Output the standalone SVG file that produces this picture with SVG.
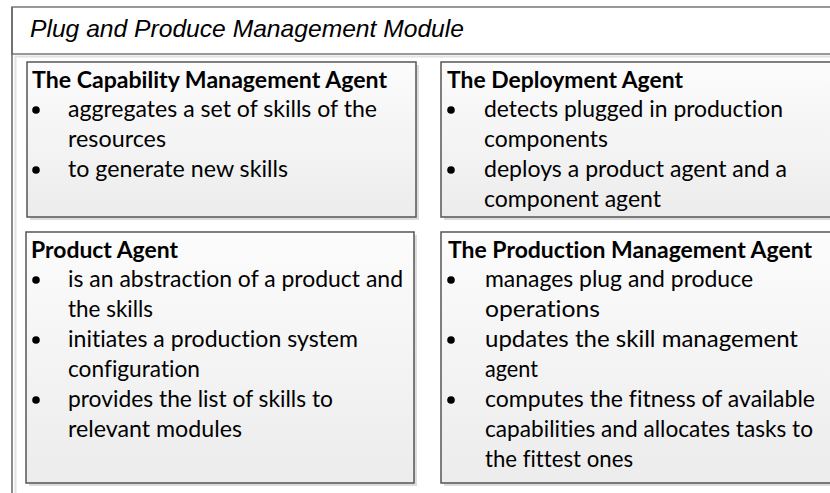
<svg xmlns="http://www.w3.org/2000/svg" width="830" height="493" viewBox="0 0 830 493">
<defs>
<linearGradient id="boxfill" x1="0" y1="0" x2="0" y2="1">
<stop offset="0" stop-color="#fcfcfc"/>
<stop offset="1" stop-color="#ececec"/>
</linearGradient>
<style>
.shadow{fill:#dcdcdc;}
.box{fill:url(#boxfill);stroke:#555;stroke-width:1.5;}
.head{font-family:Lato,"Open Sans",sans-serif;font-weight:bold;font-size:23px;fill:#000;font-variant-ligatures:none;font-feature-settings:"liga" 0,"dlig" 0;}
.item{font-family:Lato,"Open Sans",sans-serif;font-size:23px;fill:#000;font-variant-ligatures:none;font-feature-settings:"liga" 0,"dlig" 0;}
.bullet{fill:#000;}
.title{font-family:"Liberation Sans",Arial,sans-serif;font-style:italic;font-size:24px;fill:#000;}
</style>
</defs>
<rect width="830" height="493" fill="#fff"/>
<g id="frame">
<line x1="15.5" y1="56" x2="15.5" y2="493" stroke="#e2e2e2" stroke-width="2"/>
<line x1="15" y1="56.5" x2="830" y2="56.5" stroke="#e2e2e2" stroke-width="2"/>
<rect x="12" y="7" width="830" height="47" fill="#fff" stroke="#777" stroke-width="1.5"/>
<line x1="12" y1="7" x2="12" y2="493" stroke="#666" stroke-width="1.5"/>
<text class="title" x="30" y="37" textLength="434" lengthAdjust="spacingAndGlyphs">Plug and Produce Management Module</text>
</g>
<g id="capability-agent">
<rect class="shadow" x="30" y="65" width="389" height="155"/>
<rect class="box" x="27" y="62" width="389" height="155"/>
<text class="head" x="32" y="88" textLength="355" lengthAdjust="spacingAndGlyphs">The Capability Management Agent</text>
<circle class="bullet" cx="36" cy="110" r="3.8"/>
<text class="item" x="68" y="117" textLength="309" lengthAdjust="spacingAndGlyphs">aggregates a set of skills of the</text>
<text class="item" x="68" y="147" textLength="98" lengthAdjust="spacingAndGlyphs">resources</text>
<circle class="bullet" cx="36" cy="170" r="3.8"/>
<text class="item" x="68" y="177" textLength="220" lengthAdjust="spacingAndGlyphs">to generate new skills</text>
</g>
<g id="deployment-agent">
<rect class="shadow" x="444" y="65" width="400" height="155"/>
<rect class="box" x="441" y="62" width="400" height="155"/>
<text class="head" x="447" y="88" textLength="236" lengthAdjust="spacingAndGlyphs">The Deployment Agent</text>
<circle class="bullet" cx="451" cy="110" r="3.8"/>
<text class="item" x="484" y="117" textLength="299" lengthAdjust="spacingAndGlyphs">detects plugged in production</text>
<text class="item" x="484" y="147" textLength="124" lengthAdjust="spacingAndGlyphs">components</text>
<circle class="bullet" cx="451" cy="170" r="3.8"/>
<text class="item" x="484" y="177" textLength="303" lengthAdjust="spacingAndGlyphs">deploys a product agent and a</text>
<text class="item" x="484" y="207" textLength="177" lengthAdjust="spacingAndGlyphs">component agent</text>
</g>
<g id="product-agent">
<rect class="shadow" x="29" y="235" width="388" height="251"/>
<rect class="box" x="26" y="232" width="388" height="251"/>
<text class="head" x="31" y="258" textLength="147" lengthAdjust="spacingAndGlyphs">Product Agent</text>
<circle class="bullet" cx="36" cy="280" r="3.8"/>
<text class="item" x="68" y="287" textLength="335" lengthAdjust="spacingAndGlyphs">is an abstraction of a product and</text>
<text class="item" x="68" y="317" textLength="85" lengthAdjust="spacingAndGlyphs">the skills</text>
<circle class="bullet" cx="36" cy="340" r="3.8"/>
<text class="item" x="68" y="347" textLength="290" lengthAdjust="spacingAndGlyphs">initiates a production system</text>
<text class="item" x="68" y="377" textLength="132" lengthAdjust="spacingAndGlyphs">configuration</text>
<circle class="bullet" cx="36" cy="400" r="3.8"/>
<text class="item" x="68" y="407" textLength="265" lengthAdjust="spacingAndGlyphs">provides the list of skills to</text>
<text class="item" x="68" y="437" textLength="174" lengthAdjust="spacingAndGlyphs">relevant modules</text>
</g>
<g id="production-management-agent">
<rect class="shadow" x="444" y="235" width="400" height="251"/>
<rect class="box" x="441" y="232" width="400" height="251"/>
<text class="head" x="448" y="258" textLength="364" lengthAdjust="spacingAndGlyphs">The Production Management Agent</text>
<circle class="bullet" cx="451" cy="280" r="3.8"/>
<text class="item" x="485" y="287" textLength="268" lengthAdjust="spacingAndGlyphs">manages plug and produce</text>
<text class="item" x="485" y="317" textLength="115" lengthAdjust="spacingAndGlyphs">operations</text>
<circle class="bullet" cx="451" cy="340" r="3.8"/>
<text class="item" x="485" y="347" textLength="313" lengthAdjust="spacingAndGlyphs">updates the skill management</text>
<text class="item" x="485" y="377" textLength="53" lengthAdjust="spacingAndGlyphs">agent</text>
<circle class="bullet" cx="451" cy="400" r="3.8"/>
<text class="item" x="485" y="407" textLength="330" lengthAdjust="spacingAndGlyphs">computes the fitness of available</text>
<text class="item" x="485" y="437" textLength="328" lengthAdjust="spacingAndGlyphs">capabilities and allocates tasks to</text>
<text class="item" x="485" y="467" textLength="148" lengthAdjust="spacingAndGlyphs">the fittest ones</text>
</g>
<g id="connectors"/>
</svg>
